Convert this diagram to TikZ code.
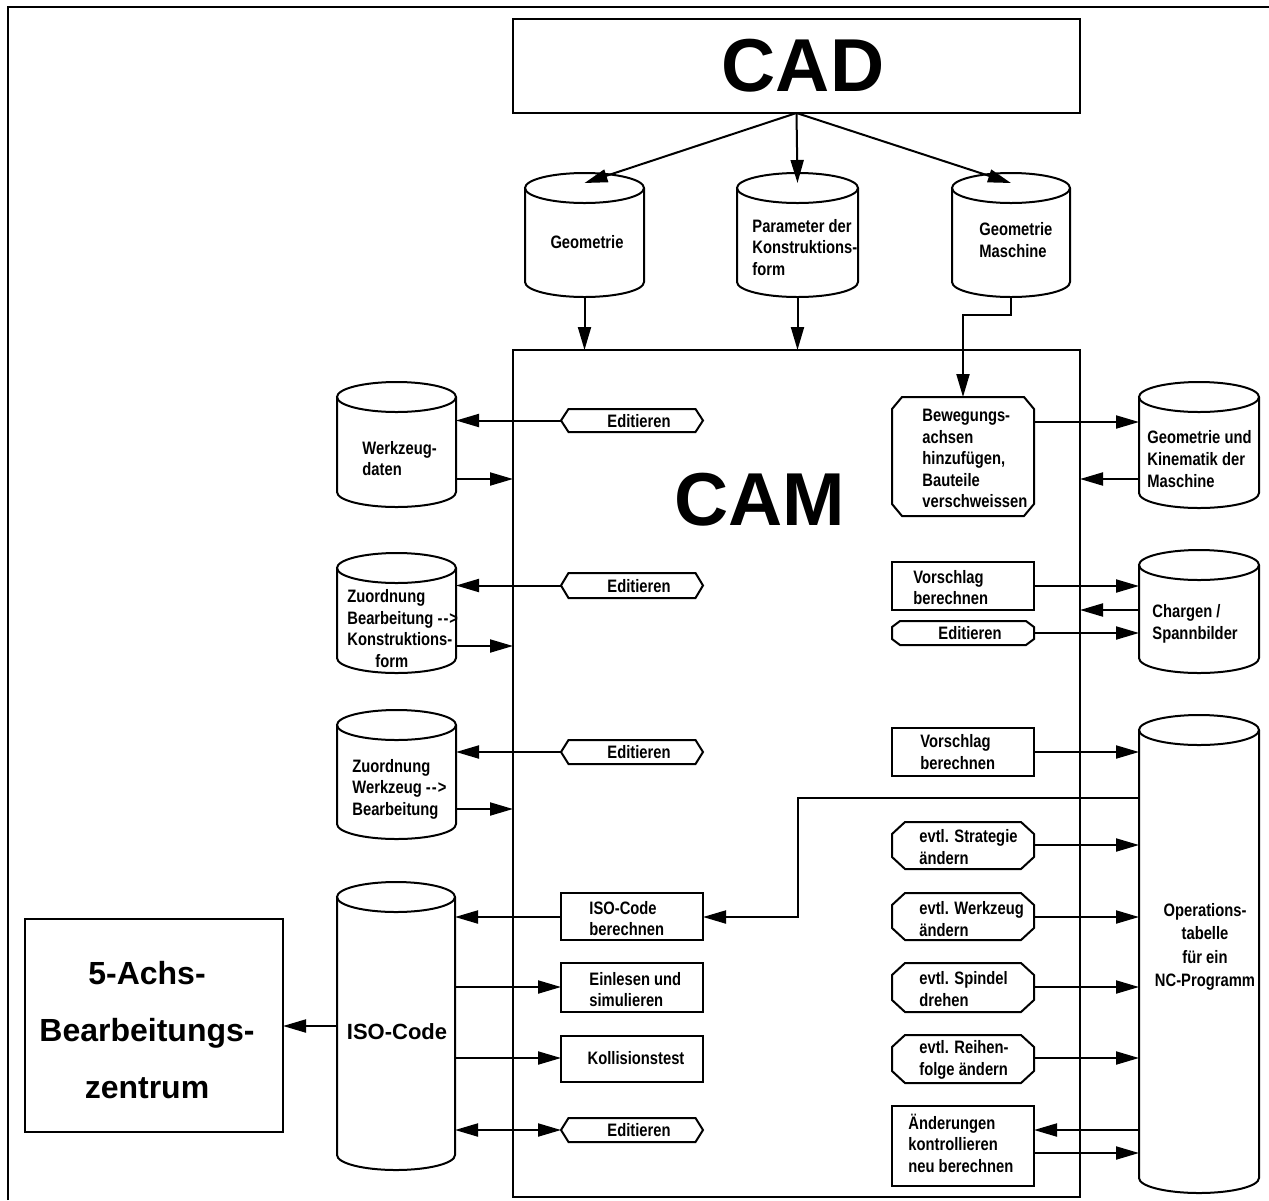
\documentclass[tikz,border=0pt]{standalone}
\usepackage{fontspec}
\setmainfont{Liberation Sans}
\newfontfamily\narrowsans[FakeStretch=0.82]{Liberation Sans}
\usetikzlibrary{arrows.meta,calc}

% invisible box that gives a node its extent (corners in image units)
\newcommand\dgRegion[6][]{%
  \node[area,#1,minimum width={(#5-#3)*0.5pt},minimum height={(#6-#4)*0.5pt}]
    (#2) at ({(#3+#5)/2},{(#4+#6)/2}) {};}
% data store drawn as an upright cylinder
\newcommand\dgCyl[5]{%
  \dgRegion{#1}{#2}{#3}{#4}{#5}
  \draw[ln,fill=white] ({(#2+#4)/2},{#3+15}) ellipse [x radius={(#4-#2)*0.25pt}, y radius=7.5pt];
  \draw[ln] (#2,{#3+15}) -- (#2,{#5-15})
    arc [start angle=180, end angle=360, x radius={(#4-#2)*0.25pt}, y radius=7.5pt]
    -- (#4,{#3+15});}
% action box with cut corners
\newcommand\dgOct[7]{%
  \dgRegion{#1}{#2}{#3}{#4}{#5}
  \draw[ln] ({#2+#6},#3) -- ({#4-#6},#3) -- (#4,{#3+#7}) -- (#4,{#5-#7})
    -- ({#4-#6},#5) -- ({#2+#6},#5) -- (#2,{#5-#7}) -- (#2,{#3+#7}) -- cycle;}

\begin{document}
\begin{tikzpicture}[x=0.5pt,y=-0.5pt,
  ln/.style={line width=1pt},
  tip/.tip={Triangle[length=11.5pt,width=6.5pt]},
  arr/.style={ln,-tip},
  darr/.style={ln,tip-tip},
  area/.style={inner sep=0pt,outer sep=0pt},
  framed/.style={draw,ln},
  lbl/.style={inner sep=0pt,align=left,anchor=west,
    font=\narrowsans\bfseries\fontsize{9}{10.8}\selectfont},
  clbl/.style={lbl,align=center,anchor=center},
  huge/.style={inner sep=0pt,font=\bfseries\fontsize{37.5}{40}\selectfont}]

\useasboundingbox (0,0) rectangle (1269,1200);
% page frame
\draw[line width=1.4pt] (8,1200) -- (8,7) -- (1269,7);

% ---------- CAD and its data ----------
\dgRegion[framed]{cad}{513}{19}{1080}{113}
\node[huge] (cadlbl) at (803,66) {CAD};

\dgCyl{geo}{525}{173}{644}{297}
\node[clbl] (geolbl) at (587,242) {Geometrie};
\dgCyl{par}{737}{173}{858}{297}
\node[lbl] (parlbl) at (752,247.5) {Parameter der\\Konstruktions-\\form};
\dgCyl{gma}{952}{173}{1070}{297}
\node[lbl] (gmalbl) at (979,240) {Geometrie\\Maschine};

\draw[arr] (cad.south) -- ([yshift=-5pt]geo.north);
\draw[arr] (cad.south) -- ([yshift=-5pt]par.north);
\draw[arr] (cad.south) -- ([yshift=-5pt]gma.north);

% ---------- CAM ----------
\dgRegion[framed]{cam}{513}{350}{1080}{1197}
\node[huge] (camlbl) at (760,500) {CAM};

\draw[arr] (geo.south) -- (geo.south |- cam.north);
\draw[arr] (par.south) -- (par.south |- cam.north);

% horizontal levels of the connectors
\foreach \lv in {422,479,586,610,633,646,752,798,809,845,917,987,1026,1058,1130,1153}
  \coordinate (h\lv) at (0,\lv);

% ---------- left stores ----------
\dgCyl{wzd}{337}{382}{456}{507}
\node[lbl] (wzdlbl) at (362,458.5) {Werkzeug-\\daten};
\dgOct{ed1}{561}{409}{703}{432}{7.5}{11.5}
\node[clbl] (ed1lbl) at (639,421) {Editieren};
\draw[arr] (ed1.west) -- (ed1.west -| wzd.east);
\draw[arr] (wzd.east |- h479) -- (cam.west |- h479);

\dgCyl{zb}{337}{553}{456}{673}
\node[lbl] (zblbl) at (347,628.5)
  {Zuordnung\\Bearbeitung -\kern0.5pt-\kern0.5pt>\\Konstruktions-\\\hspace*{14pt}form};
\dgOct{ed2}{561}{573}{703}{598}{7.5}{12.5}
\node[clbl] (ed2lbl) at (639,586) {Editieren};
\draw[arr] (ed2.west) -- (ed2.west -| zb.east);
\draw[arr] (zb.east |- h646) -- (cam.west |- h646);

\dgCyl{zw}{337}{710}{456}{839}
\node[lbl] (zwlbl) at (352,789) {Zuordnung\\Werkzeug -\kern0.5pt-\kern0.5pt>\\Bearbeitung};
\dgOct{ed3}{561}{740}{703}{764}{7.5}{12}
\node[clbl] (ed3lbl) at (639,752) {Editieren};
\draw[arr] (ed3.west) -- (ed3.west -| zw.east);
\draw[arr] (zw.east |- h809) -- (cam.west |- h809);

% ---------- ISO code and machine ----------
\dgCyl{iso}{337}{882}{455}{1170}
\node[inner sep=0pt,font=\bfseries\fontsize{11}{13}\selectfont] (isolbl) at (397,1032) {ISO-Code};
\dgRegion[framed]{bz}{25}{919}{283}{1132}
\node[inner sep=0pt,align=center,font=\bfseries\fontsize{16}{28.5}\selectfont]
  (bzlbl) at (147,1030) {5-Achs-\\Bearbeitungs-\\zentrum};
\draw[arr] (iso.west |- h1026) -- (bz.east |- h1026);

\dgRegion[framed]{iso1}{561}{893}{703}{940}
\node[lbl] (iso1lbl) at (589,918.5) {ISO-Code\\berechnen};
\draw[arr] (iso1.west |- h917) -- (iso.east |- h917);
\dgRegion[framed]{ein}{561}{963}{703}{1012}
\node[lbl] (einlbl) at (589,989.5) {Einlesen und\\simulieren};
\draw[arr] (iso.east |- h987) -- (ein.west |- h987);
\dgRegion[framed]{kol}{561}{1036}{703}{1082}
\node[clbl] (kollbl) at (636,1058) {Kollisionstest};
\draw[arr] (iso.east |- h1058) -- (kol.west |- h1058);
\dgOct{ed4}{561}{1118}{703}{1142}{7.5}{12}
\node[clbl] (ed4lbl) at (639,1130) {Editieren};
\draw[darr] (iso.east |- ed4.west) -- (ed4.west);

% ---------- right side: machine ----------
\dgOct{bew}{892}{397}{1034}{516}{10}{12}
\node[lbl] (bewlbl) at (922,458.5)
  {Bewegungs-\\achsen\\hinzufügen,\\Bauteile\\verschweissen};
\draw[arr] (gma.south) -- ++(0,18) -| (bew.north);
\dgCyl{gkm}{1139}{382}{1259}{508}
\node[lbl] (gkmlbl) at (1147,459) {Geometrie und\\Kinematik der\\Maschine};
\draw[arr] (bew.east |- h422) -- (gkm.west |- h422);
\draw[arr] (gkm.west |- h479) -- (cam.east |- h479);

% ---------- right side: batches ----------
\dgRegion[framed]{vb1}{892}{562}{1034}{610}
\node[lbl] (vb1lbl) at (913,587.5) {Vorschlag\\berechnen};
\dgCyl{cs}{1139}{550}{1259}{673}
\node[lbl] (cslbl) at (1152,624) {Chargen /\\Spannbilder};
\dgOct{ed5}{892}{621}{1034}{645}{8}{6}
\node[clbl] (ed5lbl) at (970,633) {Editieren};
\draw[arr] (vb1.east |- h586) -- (cs.west |- h586);
\draw[arr] (cs.west |- h610) -- (cam.east |- h610);
\draw[arr] (ed5.east |- h633) -- (cs.west |- h633);

% ---------- right side: operation table ----------
\dgCyl{ot}{1139}{715}{1259}{1193}
\node[clbl,font=\narrowsans\bfseries\fontsize{9}{11.7}\selectfont] (otlbl) at (1205,947)
  {Operations-\\tabelle\\für ein\\NC-Programm};
\dgRegion[framed]{vb2}{892}{728}{1034}{776}
\node[lbl] (vb2lbl) at (920,752) {Vorschlag\\berechnen};
\draw[arr] (vb2.east |- h752) -- (ot.west |- h752);
\draw[arr] (ot.west |- h798) -| (par.south |- h917) -- (iso1.east |- h917);

\dgOct{es}{892}{822}{1034}{869}{13}{12}
\node[lbl] (eslbl) at (919,847) {evtl. Strategie\\ändern};
\draw[arr] (es.east |- h845) -- (ot.west |- h845);
\dgOct{ew}{892}{893}{1034}{940}{13}{12}
\node[lbl] (ewlbl) at (919,919) {evtl. Werkzeug\\ändern};
\draw[arr] (ew.east |- h917) -- (ot.west |- h917);
\dgOct{esp}{892}{963}{1034}{1012}{13}{12}
\node[lbl] (esplbl) at (919,989) {evtl. Spindel\\drehen};
\draw[arr] (esp.east |- h987) -- (ot.west |- h987);
\dgOct{er}{892}{1035}{1034}{1083}{13}{12}
\node[lbl] (erlbl) at (919,1060) {evtl. Reihen-\\folge ändern};
\draw[arr] (er.east |- h1058) -- (ot.west |- h1058);

\dgRegion[framed]{aend}{892}{1106}{1034}{1186}
\node[lbl] (aendlbl) at (908,1143) {Änderungen\\kontrollieren\\neu berechnen};
\draw[arr] (ot.west |- h1130) -- (aend.east |- h1130);
\draw[arr] (aend.east |- h1153) -- (ot.west |- h1153);
\end{tikzpicture}
\end{document}
